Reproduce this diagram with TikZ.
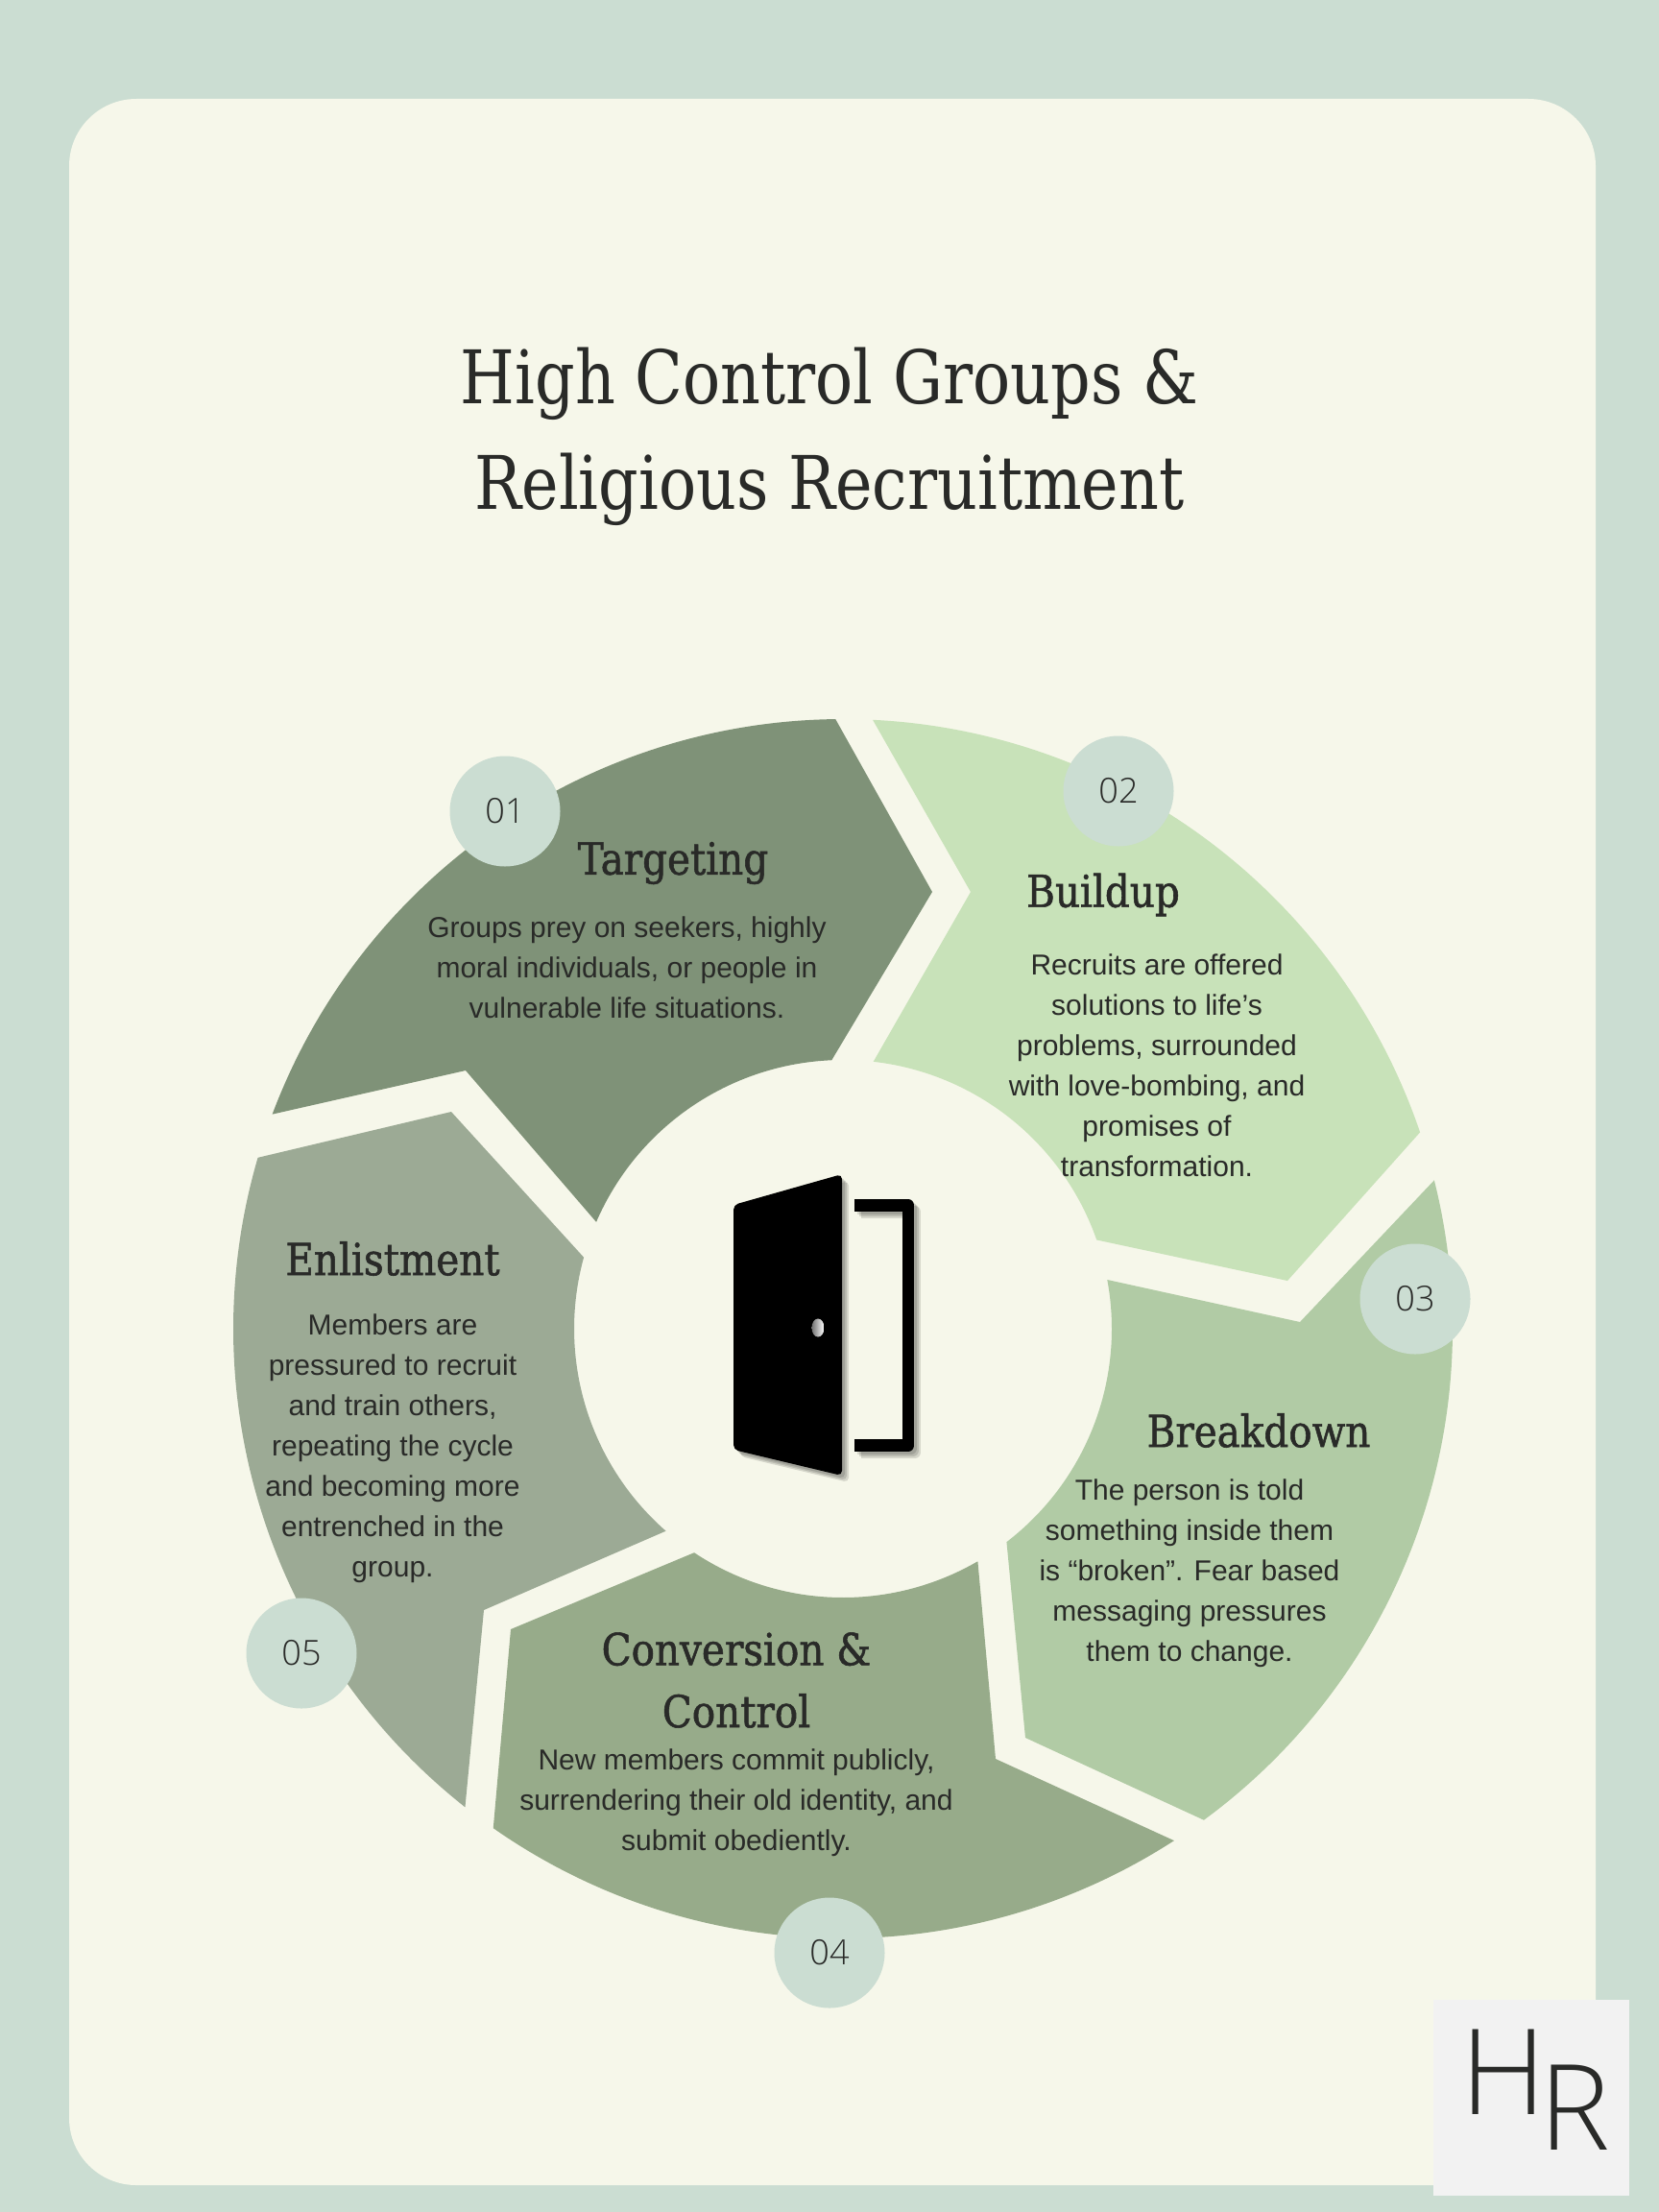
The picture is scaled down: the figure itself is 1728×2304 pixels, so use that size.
\documentclass[tikz,border=0pt]{standalone}
\usepackage{fontspec}
\setmainfont{Liberation Sans}
\newfontfamily\titlefont[FakeStretch=0.845]{DejaVu Serif}
\newfontfamily\headfont[FakeStretch=0.88,FakeBold=1.2]{DejaVu Serif}
\newfontfamily\lightfont[UprightFont=* Light]{Open Sans}
\definecolor{pagegreen}{HTML}{CBDDD2}
\definecolor{cardcream}{HTML}{F6F7EA}
\definecolor{inkdark}{HTML}{292A28}
\definecolor{targetgreen}{HTML}{7F9278}
\definecolor{buildgreen}{HTML}{C8E2B9}
\definecolor{breakgreen}{HTML}{B1CBA5}
\definecolor{convgreen}{HTML}{97AB8A}
\definecolor{enlistgreen}{HTML}{9CAA95}
\newcommand{\outarc}[2]{([shift={(ctr)}]#1:635) arc[start angle=#1,end angle=#2,radius=635]}
\newcommand{\inarc}[2]{([shift={(ctr)}]#1:280) arc[start angle=#1,end angle=#2,radius=280]}
\newcommand{\doorpath}{(764,1255) -- (877,1223) -- (877,1537) -- (764,1510) -- cycle}
\newcommand{\framepath}{(890,1255.5) -- (946,1255.5) -- (946,1505.5) -- (890,1505.5)}

\begin{document}
\begin{tikzpicture}[x=1pt,y=-1pt,
  numdot/.style={circle,fill=pagegreen,minimum size=115pt,inner sep=0pt,text=inkdark,font=\lightfont\fontsize{36}{36}\selectfont},
  headtxt/.style={align=center,text=inkdark,font=\headfont\fontsize{46}{64.6}\selectfont},
  bodytxt/.style={align=center,text=inkdark,font=\fontsize{30}{42}\selectfont},
  logotxt/.style={anchor=base west,inner sep=0pt,text=inkdark,font=\lightfont\fontsize{124}{124}\selectfont},
  doorshade/.style={opacity=0.13,rounded corners=5pt},
  frameshade/.style={opacity=0.13,line width=12.5pt,line join=round}]
\useasboundingbox (0,0) rectangle (1728,2304);
\fill[pagegreen] (0,0) rectangle (1728,2304);
\fill[cardcream,rounded corners=70pt] (72,103) rectangle (1662,2276);
\coordinate (ctr) at (878,1384);
\node[align=center,text=inkdark,font=\titlefont\fontsize{77}{110}\selectfont] (title) at (864,455) {High Control Groups \&\\Religious Recruitment};
% the five segments of the ring
\fill[targetgreen] \outarc{200.6}{269.3} -- (971,929) -- \inarc{267.6}{203.4} -- (485,1115) -- cycle;
\fill[buildgreen] \outarc{272.8}{341.2} -- (1341,1334) -- \inarc{340.7}{276.5} -- (1011,929) -- cycle;
\fill[breakgreen] \outarc{345.9}{413.7} -- (1068,1810) -- \inarc{52.5}{-10.5} -- (1354,1377) -- cycle;
\fill[convgreen] \outarc{57.1}{125} -- (532,1697) -- \inarc{123.6}{59.9} -- (1037,1832) -- cycle;
\fill[enlistgreen] \outarc{128.3}{196.3} -- (470,1158) -- \inarc{195.4}{131.2} -- (504,1677) -- cycle;
% door
\foreach \off in {3,5,7} {
  \fill[doorshade,shift={(\off,\off)}] \doorpath;
  \draw[frameshade,shift={(\off,\off)}] \framepath;
}
\fill[black,rounded corners=5pt] \doorpath;
\draw[black,line width=12.5pt,line join=round] \framepath;
\fill[left color=black!55,right color=white] (852,1383) ellipse [x radius=6.5,y radius=9.5];
% labels
\node[headtxt] (targethead) at (701,899) {Targeting};
\node[bodytxt] (targetbody) at (653,1008) {Groups prey on seekers, highly\\moral individuals, or people in\\vulnerable life situations.};
\node[headtxt] (buildhead) at (1149,932) {Buildup};
\node[bodytxt] (buildbody) at (1205,1110) {Recruits are offered\\solutions to life’s\\problems, surrounded\\with love-bombing, and\\promises of\\transformation.};
\node[headtxt] (breakhead) at (1311,1490) {Breakdown};
\node[bodytxt] (breakbody) at (1239,1639) {The person is told\\something inside them\\is “broken”. Fear based\\messaging pressures\\them to change.};
\node[headtxt] (convhead) at (767,1750) {Conversion \&\\Control};
\node[bodytxt] (convbody) at (767,1878) {New members commit publicly,\\surrendering their old identity, and\\submit obediently.};
\node[headtxt] (enlisthead) at (409,1311) {Enlistment};
\node[bodytxt] (enlistbody) at (409,1509) {Members are\\pressured to recruit\\and train others,\\repeating the cycle\\and becoming more\\entrenched in the\\group.};
\node[numdot] (num1) at (526,845) {01};
\node[numdot] (num2) at (1165,824) {02};
\node[numdot] (num3) at (1474,1353) {03};
\node[numdot] (num4) at (864,2034) {04};
\node[numdot] (num5) at (314,1722) {05};
% logo
\fill[white!95!black] (1493,2083) rectangle (1697,2287);
\node[logotxt] (logoh) at (1521,2202) {H};
\node[logotxt] (logor) at (1603,2239) {R};
\end{tikzpicture}
\end{document}
